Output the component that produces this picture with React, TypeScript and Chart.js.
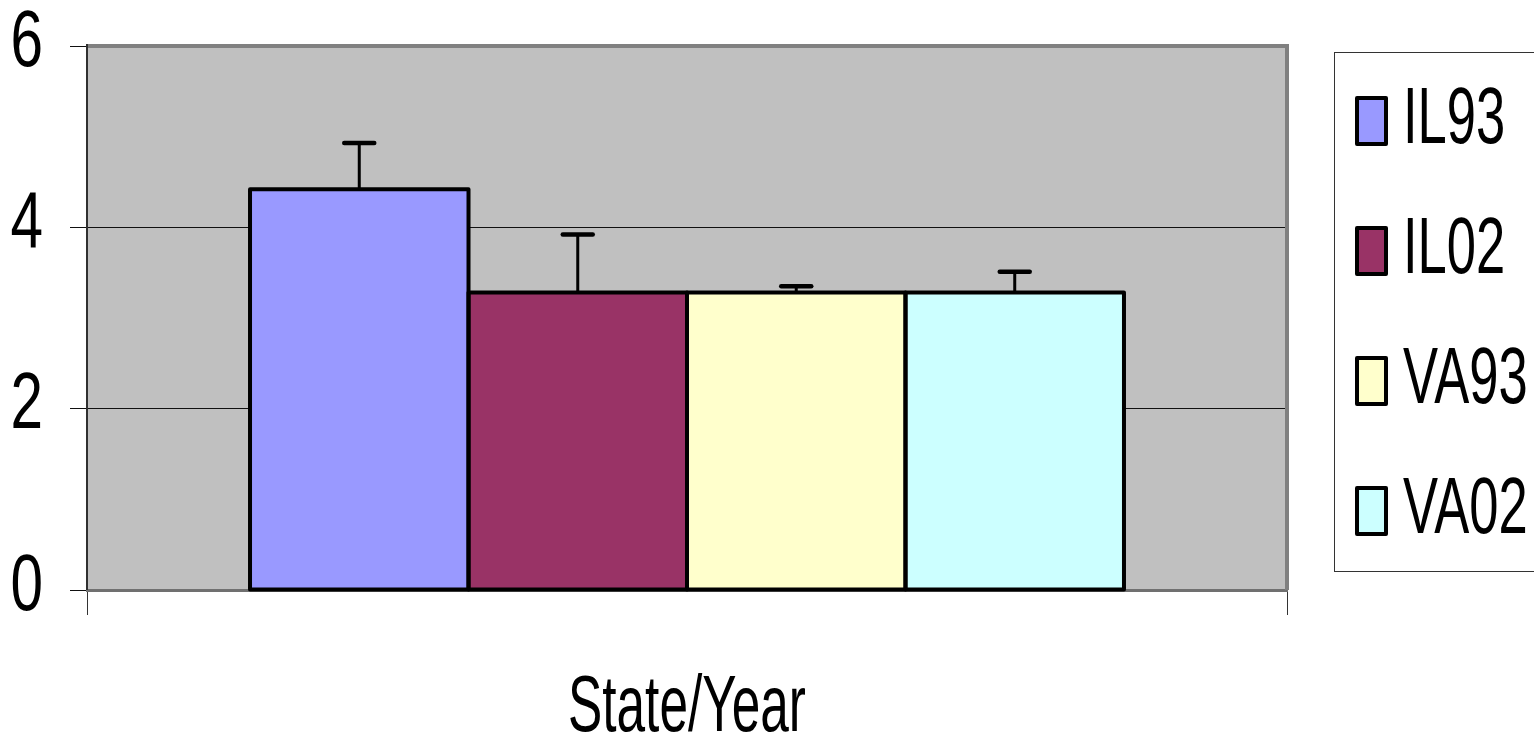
import React, { useEffect, useRef } from "react";
import { Chart, registerables } from "chart.js";

Chart.register(...registerables);

const categories = ["State/Year"];
const seriesLabels = ["IL93", "IL02", "VA93", "VA02"];
const seriesValues = [4.42, 3.28, 3.28, 3.28];
const seriesErrors = [0.51, 0.64, 0.07, 0.23];
const seriesColors = ["#9999FF", "#993366", "#FFFFCC", "#CCFFFF"];
const yTicks = [0, 2, 4, 6];
const axisTitle = "State/Year";

const FONT = '"Liberation Sans", Arial, sans-serif';

function drawScaledText(
  ctx: CanvasRenderingContext2D,
  text: string,
  x: number,
  y: number,
  align: CanvasTextAlign,
  sx: number,
  size: number
) {
  ctx.save();
  ctx.font = `${size}px ${FONT}`;
  ctx.fillStyle = "#000";
  ctx.textBaseline = "alphabetic";
  ctx.textAlign = align;
  ctx.translate(x, y);
  ctx.scale(sx, 1);
  ctx.fillText(text, 0, 0);
  ctx.restore();
}

const decorPlugin = {
  id: "decor",
  beforeDraw(chart: any) {
    const { ctx, chartArea } = chart;
    ctx.save();
    ctx.fillStyle = "#C0C0C0";
    ctx.fillRect(chartArea.left, chartArea.top, chartArea.right - chartArea.left, chartArea.bottom - chartArea.top);
    ctx.restore();
  },
  afterDatasetsDraw(chart: any) {
    const { ctx, chartArea } = chart;
    const yScale = chart.scales.y;
    // frame (top and right)
    ctx.save();
    ctx.strokeStyle = "#808080";
    ctx.lineWidth = 4;
    ctx.beginPath();
    ctx.moveTo(chartArea.left, chartArea.top);
    ctx.lineTo(chartArea.right, chartArea.top);
    ctx.lineTo(chartArea.right, chartArea.bottom);
    ctx.stroke();
    ctx.strokeStyle = "#303030";
    ctx.lineWidth = 2;
    ctx.beginPath();
    ctx.moveTo(chartArea.left, chartArea.top - 2);
    ctx.lineTo(chartArea.left, chartArea.bottom);
    ctx.stroke();
    ctx.restore();

    // bar outlines (centred on the bar edges)
    chart.data.datasets.forEach((_ds: any, i: number) => {
      const bar = chart.getDatasetMeta(i).data[0] as any;
      if (!bar) return;
      const left = bar.x - bar.width / 2;
      ctx.save();
      ctx.strokeStyle = "#000";
      ctx.lineWidth = 4;
      ctx.lineJoin = "round";
      ctx.strokeRect(left, bar.y, bar.width, bar.base - bar.y);
      ctx.restore();
    });

    // error bars
    chart.data.datasets.forEach((ds: any, i: number) => {
      const bar = chart.getDatasetMeta(i).data[0] as any;
      if (!bar) return;
      const v = ds.data[0];
      const err = seriesErrors[i];
      const yTop = yScale.getPixelForValue(v + err);
      const yBar = yScale.getPixelForValue(v);
      ctx.save();
      ctx.strokeStyle = "#000";
      ctx.lineCap = "round";
      ctx.lineWidth = 3;
      ctx.beginPath();
      ctx.moveTo(bar.x, yBar);
      ctx.lineTo(bar.x, yTop);
      ctx.stroke();
      ctx.lineWidth = 4.5;
      ctx.beginPath();
      ctx.moveTo(bar.x - 15, yTop);
      ctx.lineTo(bar.x + 15, yTop);
      ctx.stroke();
      ctx.restore();
    });
  },
  afterDraw(chart: any) {
    const { ctx, chartArea } = chart;
    const yScale = chart.scales.y;
    // y tick labels
    yScale.ticks.forEach((t: any) => {
      const y = yScale.getPixelForValue(t.value);
      drawScaledText(ctx, String(t.label ?? t.value), 43, y + 19.5, "right", 0.74, 79);
    });
    // x axis title
    drawScaledText(ctx, axisTitle, (chartArea.left + chartArea.right) / 2, 731, "center", 0.65, 79);

    // legend
    ctx.save();
    ctx.strokeStyle = "#333";
    ctx.lineWidth = 1;
    ctx.strokeRect(1334.5, 52.5, 260, 519);
    ctx.restore();
    chart.data.datasets.forEach((ds: any, i: number) => {
      const top = 96 + 130 * i;
      ctx.save();
      ctx.fillStyle = ds.backgroundColor;
      ctx.fillRect(1357, top + 2, 29, 46);
      ctx.strokeStyle = "#000";
      ctx.lineWidth = 4;
      ctx.lineJoin = "round";
      ctx.strokeRect(1357, top + 2, 29, 46);
      ctx.restore();
      drawScaledText(ctx, ds.label, 1403, 143 + 130 * i, "left", 0.665, 79);
    });
  },
};

export default function App() {
  const ref = useRef<HTMLCanvasElement | null>(null);
  useEffect(() => {
    if (!ref.current) return;
    const chart = new Chart(ref.current, {
      type: "bar",
      data: {
        labels: categories,
        datasets: seriesLabels.map((label, i) => ({
          label,
          data: [seriesValues[i]],
          backgroundColor: seriesColors[i],
          borderWidth: 0,
          barPercentage: 1,
          categoryPercentage: 0.7283,
        })),
      },
      options: {
        animation: false,
        responsive: true,
        maintainAspectRatio: false,
        layout: { padding: { left: 70, right: 247, top: 46, bottom: 124 } },
        plugins: {
          legend: { display: false },
          tooltip: { enabled: false },
          title: { display: false },
        },
        scales: {
          x: {
            offset: true,
            ticks: { display: false },
            grid: {
              offset: true,
              drawOnChartArea: false,
              tickLength: 25,
              color: "#333",
              lineWidth: 1,
            },
            border: { display: true, color: "#707070", width: 3 },
          },
          y: {
            min: 0,
            max: 6,
            afterBuildTicks: (scale: any) => {
              scale.ticks = yTicks.map((v) => ({ value: v, label: String(v) }));
            },
            ticks: { display: false },
            grid: {
              color: "#111",
              lineWidth: 1,
              tickLength: 17,
            },
            border: { display: false },
          },
        },
      },
      plugins: [decorPlugin],
    });
    return () => chart.destroy();
  }, []);
  return (
    <div style={{ position: "fixed", left: 0, top: 0, width: 1534, height: 739, background: "#fff" }}>
      <canvas ref={ref} />
    </div>
  );
}
